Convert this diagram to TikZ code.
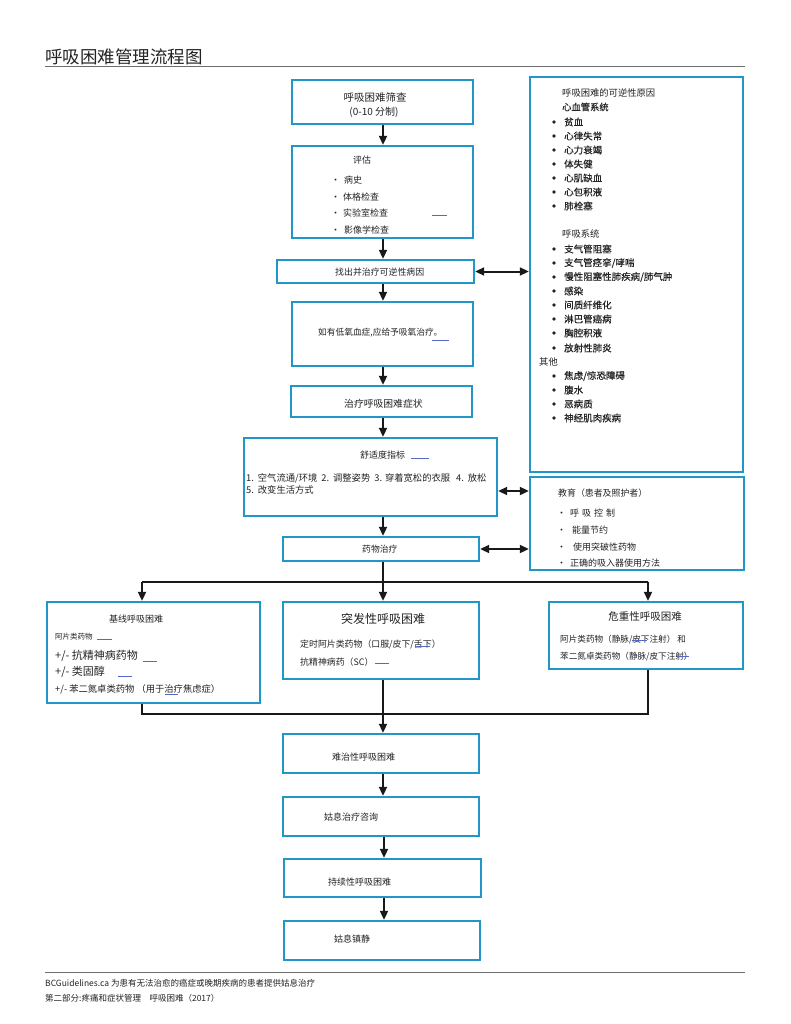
\documentclass[tikz,border=0pt]{standalone}
\usepackage{fontspec}
\setmainfont{Noto Sans CJK SC}
\newfontfamily\heavyfont{Noto Sans CJK SC}[FakeBold=0.35]
\usetikzlibrary{arrows.meta}
\definecolor{boxblue}{RGB}{35,150,200}
\definecolor{linkblue}{RGB}{85,105,200}
\definecolor{ink}{RGB}{35,35,35}
\definecolor{rule}{RGB}{110,110,110}
\newcommand{\fsz}[1]{\fontsize{#1}{#1}\selectfont}
\begin{document}
\begin{tikzpicture}[x=1pt,y=-1pt,
  box/.style={draw=boxblue,line width=2.4pt,rectangle,inner sep=0pt,fill=white},
  txt/.style={inner sep=0pt,anchor=west,text=ink,font=\fsz{9}},
  ctxt/.style={inner sep=0pt,anchor=center,text=ink,font=\fsz{9}},
  dot/.style={circle,fill=ink,inner sep=0pt,minimum size=3.6pt},
  arr/.style={line width=2pt,draw=black!90,-{Triangle[length=9pt,width=8pt]}},
  darr/.style={line width=2pt,draw=black!90,{Triangle[length=9pt,width=8pt]}-{Triangle[length=9pt,width=8pt]}},
  wire/.style={line width=2pt,draw=black!90},
  link/.style={draw=linkblue,line width=0.8pt}]
\useasboundingbox[fill=white] (0,0) rectangle (791,1024);

% page heading and rules
\node[txt,font=\fsz{17.5}] (title) at (45,57) {呼吸困难管理流程图};
\draw[rule,line width=0.9pt] (45,66) -- (745,66);
\draw[rule,line width=0.9pt] (45,972) -- (745,972);
\node[txt,font=\fsz{8.5}] (foot1) at (45,983) {BCGuidelines.ca 为患有无法治愈的癌症或晚期疾病的患者提供姑息治疗};
\node[txt,font=\fsz{8.5}] (foot2) at (45,998) {第二部分:疼痛和症状管理\quad 呼吸困难（2017）};

% main column boxes
\node[box,minimum width=181pt,minimum height=44pt] (b1) at (382.5,102) {};
\node[box,minimum width=181pt,minimum height=92pt] (b2) at (382.5,192) {};
\node[box,minimum width=197pt,minimum height=23pt] (b3) at (375.5,271.5) {};
\node[box,minimum width=181pt,minimum height=64pt] (b4) at (382.5,334) {};
\node[box,minimum width=181pt,minimum height=31pt] (b5) at (381.5,401.5) {};
\node[box,minimum width=253pt,minimum height=78pt] (b6) at (370.5,477) {};
\node[box,minimum width=196pt,minimum height=24pt] (b7) at (381,549) {};

% side boxes
\node[box,minimum width=213pt,minimum height=395pt] (causes) at (636.5,274.5) {};
\node[box,minimum width=214pt,minimum height=93pt] (edu) at (637,523.5) {};

% three branches
\node[box,minimum width=213pt,minimum height=101pt] (base) at (153.5,652.5) {};
\node[box,minimum width=196pt,minimum height=77pt] (burst) at (381,640.5) {};
\node[box,minimum width=194pt,minimum height=67pt] (crisis) at (646,635.5) {};

% lower column
\node[box,minimum width=196pt,minimum height=39pt] (d1) at (381,753.5) {};
\node[box,minimum width=196pt,minimum height=39pt] (d2) at (381,816.5) {};
\node[box,minimum width=197pt,minimum height=38pt] (d3) at (382.5,878) {};
\node[box,minimum width=196pt,minimum height=39pt] (d4) at (382,940.5) {};

% helper coordinates for the connectors
\coordinate (spine) at (383,0);
\coordinate (split) at (383,582);
\coordinate (splitL) at (142,582);
\coordinate (splitR) at (648,582);
\coordinate (joinL) at (142,714);
\coordinate (joinR) at (648,714);

% main column connectors
\draw[arr] (b1.south -| spine) -- (b2.north -| spine);
\draw[arr] (b2.south -| spine) -- (b3.north -| spine);
\draw[arr] (b3.south -| spine) -- (b4.north -| spine);
\draw[arr] (b4.south -| spine) -- (b5.north -| spine);
\draw[arr] (b5.south -| spine) -- (b6.north -| spine);
\draw[arr] (b6.south -| spine) -- (b7.north -| spine);
\draw[wire] (b7.south -| spine) -- (split);
\draw[wire] (splitL) -- (splitR);
\draw[arr] (splitL) -- (base.north -| splitL);
\draw[arr] (split) -- (burst.north -| split);
\draw[arr] (splitR) -- (crisis.north -| splitR);
\draw[wire] (base.south -| joinL) -- (joinL) -- (joinR) -- (crisis.south -| joinR);
\draw[arr] (burst.south -| spine) -- (d1.north -| spine);
\draw[arr] (d1.south -| spine) -- (d2.north -| spine);
\draw[arr] (d2.south -| spine) ++(1,0) coordinate (d2s) -- (d3.north -| d2s);
\draw[arr] (d3.south -| spine) ++(1,0) coordinate (d3s) -- (d4.north -| d3s);

% two-way links to the side boxes
\draw[darr] (b3.east) -- (b3.east -| causes.west);
\draw[darr] (b6.east |- 0,491) coordinate (b6e) -- (b6e -| edu.west);
\draw[darr] (b7.east) -- (b7.east -| edu.west);

% screening
\node[ctxt,font=\fsz{10.5}] (t1a) at (375,97) {呼吸困难筛查};
\node[ctxt,font=\fsz{10}] (t1b) at (374,112) {(0-10 分制)};

% assessment
\node[txt] (t2) at (353,160) {评估};
\node[txt] (t2a) at (331,180) {·\hspace{4pt}病史};
\node[txt] (t2b) at (331,197) {·\hspace{3pt}体格检查};
\node[txt] (t2c) at (331,213) {·\hspace{3pt}实验室检查};
\node[txt] (t2d) at (331,230) {·\hspace{4pt}影像学检查};
\draw[link] (432,215) -- (447,215);

\node[txt,font=\fsz{8.9}] (t3) at (335,272) {找出并治疗可逆性病因};
\node[txt,font=\fsz{8.7}] (t4) at (318,333) {如有低氧血症,应给予吸氧治疗。};
\draw[link] (432,340) -- (449,340);
\node[txt,font=\fsz{9.8}] (t5) at (344,404) {治疗呼吸困难症状};

% comfort measures
\node[txt] (t6) at (360,455) {舒适度指标};
\draw[link] (411,458) -- (429,458);
\node[txt,font=\fsz{9.3}] (t6a) at (246,478) {1.\hspace{4pt}空气流通/环境\hspace{4pt}2.\hspace{4pt}调整姿势\hspace{4pt}3.\hspace{3pt}穿着宽松的衣服\hspace{6pt}4.\hspace{4pt}放松};
\node[txt,font=\fsz{9.3}] (t6b) at (246,490) {5.\hspace{4pt}改变生活方式};

\node[txt,font=\fsz{8.8}] (t7) at (362,549) {药物治疗};

% reversible causes
\node[txt,font=\fsz{9.3}] (ca) at (562,93) {呼吸困难的可逆性原因};
\node[txt,font=\fsz{9.3}\heavyfont] (cb) at (562,107) {心血管系统};
\foreach \y/\t [count=\i] in {122/{贫血},136/{心律失常},150/{心力衰竭},164/{体失健},178/{心肌缺血},192/{心包积液},206/{肺栓塞},
  249/{支气管阻塞},263/{支气管痉挛/哮喘},277/{慢性阻塞性肺疾病/肺气肿},291/{感染},305/{间质纤维化},319/{淋巴管癌病},333/{胸腔积液},348/{放射性肺炎},
  376/{焦虑/惊恐障碍},390/{腹水},404/{恶病质},418/{神经肌肉疾病}}{
  \node[dot] (cdot\i) at (554,\y) {};
  \node[txt,font=\fsz{9.5}\heavyfont] (citem\i) at (564,\y) {\t};
}
\node[txt,font=\fsz{9.3}] (cc) at (562,234) {呼吸系统};
\node[txt,font=\fsz{9.3}] (cd) at (539,362) {其他};

% education
\node[txt,font=\fsz{8.9}] (e0) at (558,493) {教育（患者及照护者）};
\node[txt,font=\fsz{9}] (e1) at (557,513) {·\hspace{4pt}呼\hspace{3pt}吸\hspace{3pt}控\hspace{3pt}制};
\node[txt,font=\fsz{9}] (e2) at (557,530) {·\hspace{6pt}能量节约};
\node[txt,font=\fsz{9}] (e3) at (557,547) {·\hspace{7pt}使用突破性药物};
\node[txt,font=\fsz{9}] (e4) at (557,563) {·\hspace{4pt}正确的吸入器使用方法};

% baseline dyspnea
\node[ctxt,font=\fsz{9}] (l0) at (136,619) {基线呼吸困难};
\node[txt,font=\fsz{7.5}] (l1) at (55,637) {阿片类药物};
\draw[link] (97,639) -- (112,639);
\node[txt,font=\fsz{11}] (l2) at (55,656) {+/- 抗精神病药物};
\draw[link] (143,661) -- (157,661);
\node[txt,font=\fsz{11}] (l3) at (55,672) {+/- 类固醇};
\draw[link] (118,676) -- (132,676);
\node[txt,font=\fsz{9.3}] (l4) at (55,689) {+/- 苯二氮卓类药物 （用于治疗焦虑症）};
\draw[link] (165,694) -- (178,694);

% breakthrough dyspnea
\node[ctxt,font=\fsz{12}] (m0) at (383,619) {突发性呼吸困难};
\node[txt,font=\fsz{8.9}] (m1) at (300,644) {定时阿片类药物（口服/皮下/舌下）};
\draw[link] (416,646) -- (430,646);
\node[txt,font=\fsz{8.9}] (m2) at (300,662) {抗精神病药（SC）};
\draw[link] (375,663) -- (389,663);

% crisis dyspnea
\node[ctxt,font=\fsz{10.5}] (r0) at (645,617) {危重性呼吸困难};
\node[txt,font=\fsz{8.6}] (r1) at (560,640) {阿片类药物（静脉/皮下注射） 和};
\draw[link] (632,640) -- (647,640);
\node[txt,font=\fsz{8.6}] (r2) at (560,657) {苯二氮卓类药物（静脉/皮下注射）};
\draw[link] (677,656) -- (689,656);

% lower column texts
\node[txt] (s1) at (332,757) {难治性呼吸困难};
\node[txt] (s2) at (324,817) {姑息治疗咨询};
\node[txt] (s3) at (328,882) {持续性呼吸困难};
\node[txt] (s4) at (334,939) {姑息镇静};
\end{tikzpicture}
\end{document}
